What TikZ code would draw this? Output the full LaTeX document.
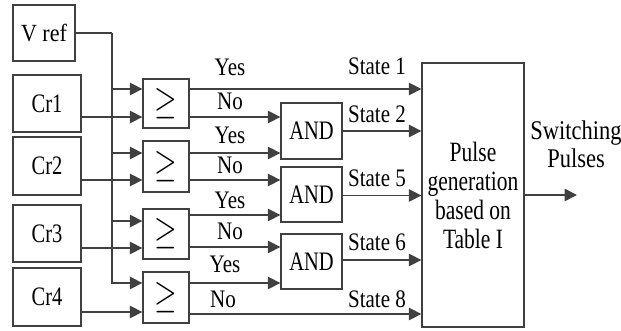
\documentclass[tikz,border=0pt]{standalone}
\usepackage{fontspec}
\setmainfont{Liberation Serif}
\usetikzlibrary{arrows.meta}
\definecolor{lc}{HTML}{404040}
\newcommand{\tall}[1]{\scalebox{1}[1.3]{#1}}
\newcommand{\lab}[1]{\scalebox{1}[1.2]{#1}}
\newcommand{\cmpsym}{\scalebox{1.4}[1.9]{$\geq$}}
\tikzset{
  blk/.style={draw=lc, line width=1.3pt, inner sep=0pt, font=\fontsize{20.5}{29}\selectfont, text=black},
  wire/.style={draw=lc, line width=1.5pt},
  arr/.style={wire, -{Triangle[length=12.5pt,width=12.5pt]}},
  lbl/.style={anchor=base, inner sep=0pt, font=\fontsize{21}{26}\selectfont},
  cmpbox/.style={blk, minimum width=46pt, font=\fontsize{21.5}{26}\selectfont}
}
\begin{document}
\begin{tikzpicture}[x=1pt,y=-1pt]
\useasboundingbox (0,0) rectangle (621,331);

% input blocks
\node[blk, minimum width=62pt, minimum height=56pt, font=\fontsize{22}{29}\selectfont] (vref) at (44,33) {\scalebox{1}[1.12]{V ref}};
\node[blk, minimum width=68pt, minimum height=57pt] (cr1) at (47,103.5) {\tall{Cr1}};
\node[blk, minimum width=68pt, minimum height=58pt] (cr2) at (47,166) {\tall{Cr2}};
\node[blk, minimum width=68pt, minimum height=57pt] (cr3) at (47,233.5) {\tall{Cr3}};
\node[blk, minimum width=68pt, minimum height=58pt] (cr4) at (47,297) {\tall{Cr4}};

% comparators
\node[cmpbox, minimum height=49pt] (c1) at (166,103.5) {\cmpsym};
\node[cmpbox, minimum height=51pt] (c2) at (166,166.5) {\cmpsym};
\node[cmpbox, minimum height=50pt] (c3) at (166,234) {\cmpsym};
\node[cmpbox, minimum height=51pt] (c4) at (166,297.5) {\cmpsym};

% AND gates
\node[blk, minimum width=61pt, minimum height=56pt] (a1) at (311.5,131) {\tall{AND}};
\node[blk, minimum width=61pt, minimum height=55pt] (a2) at (311.5,194.5) {\tall{AND}};
\node[blk, minimum width=61pt, minimum height=55pt] (a3) at (311.5,261.5) {\tall{AND}};

% pulse generator
\node[blk, minimum width=102pt, minimum height=264pt, align=center, font=\fontsize{21.5}{29}\selectfont] (pg) at (473,195)
  {\tall{Pulse}\\\tall{generation}\\\tall{based on}\\\tall{Table I}};

% reference bus
\coordinate (bus) at (112,33);
\draw[wire] (vref.east) -- (bus);
\draw[arr] (bus) -- (112,283) -- (c4.west |- 0,283);
\foreach \yy/\cc in {89/c1,153/c2,221/c3}
  \draw[arr] (112,\yy) -- (\cc.west |- 0,\yy);

% carrier inputs
\draw[arr] (cr1.east |- 0,117) -- (c1.west |- 0,117);
\draw[arr] (cr2.east |- 0,180) -- (c2.west |- 0,180);
\draw[arr] (cr3.east |- 0,248) -- (c3.west |- 0,248);
\draw[arr] (cr4.east |- 0,312) -- (c4.west |- 0,312);

% comparator outputs
\draw[arr] (c1.east |- 0,89) -- (pg.west |- 0,89);
\draw[arr] (c1.east |- 0,117) -- (a1.west |- 0,117);
\draw[arr] (c2.east |- 0,153) -- (a1.west |- 0,153);
\draw[arr] (c2.east |- 0,180) -- (a2.west |- 0,180);
\draw[arr] (c3.east |- 0,215) -- (a2.west |- 0,215);
\draw[arr] (c3.east |- 0,247) -- (a3.west |- 0,247);
\draw[arr] (c4.east |- 0,283) -- (a3.west |- 0,283);
\draw[arr] (c4.east |- 0,314) -- (pg.west |- 0,314);

% AND outputs
\draw[arr] (a1.east |- 0,131) -- (pg.west |- 0,131);
\draw[arr] (a2.east |- 0,195.5) -- (pg.west |- 0,195.5);
\draw[arr] (a3.east |- 0,260) -- (pg.west |- 0,260);

% output
\coordinate (out) at (577,195);
\draw[arr] (pg.east) -- (out);

% labels
\node[lbl] (y1) at (230,76) {\lab{Yes}};
\node[lbl] (n1) at (230,110) {\lab{No}};
\node[lbl] (y2) at (230,144) {\lab{Yes}};
\node[lbl] (n2) at (230,174) {\lab{No}};
\node[lbl] (y3) at (230,208) {\lab{Yes}};
\node[lbl] (n3) at (230,240) {\lab{No}};
\node[lbl] (y4) at (225,272) {\lab{Yes}};
\node[lbl] (n4) at (223,307) {\lab{No}};
\node[lbl] (s1) at (377,75) {\lab{State 1}};
\node[lbl] (s2) at (377,123) {\lab{State 2}};
\node[lbl] (s5) at (377,187) {\lab{State 5}};
\node[lbl] (s6) at (377,251) {\lab{State 6}};
\node[lbl] (s8) at (377,307) {\lab{State 8}};
\node[lbl, font=\fontsize{22.5}{26}\selectfont] (sw) at (576,140) {\lab{Switching}};
\node[lbl, font=\fontsize{22.5}{26}\selectfont] (sp) at (576,168) {\lab{Pulses}};
\end{tikzpicture}
\end{document}
